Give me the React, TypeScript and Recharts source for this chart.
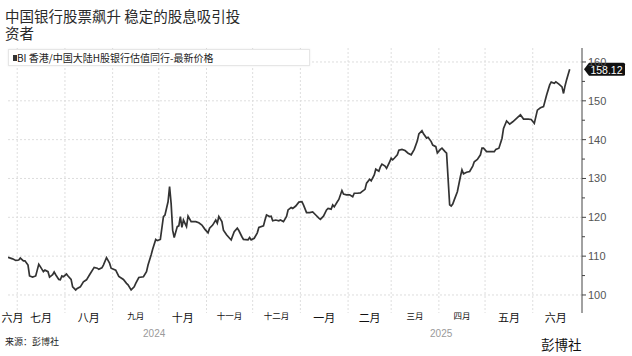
import React from "react";
import { LineChart, Line, XAxis, YAxis, CartesianGrid, ReferenceDot } from "recharts";

// days since 2024-07-01
const dayOffsets = [
  -6, -3, -1, 1, 2, 4, 5, 7, 8, 10,
  12, 13, 14, 15, 17, 18, 20, 21, 23, 24,
  25, 27, 28, 29, 30, 32, 33, 35, 36, 38,
  39, 41, 43, 45, 47, 50, 52, 53, 55, 56,
  58, 60, 61, 64, 66, 69, 71, 72, 74, 76,
  77, 79, 82, 84, 85, 87, 88, 90, 91, 93,
  95, 96, 98, 99, 100, 101, 102, 104, 105, 106,
  107, 108, 110, 111, 113, 116, 118, 120, 122, 124,
  125, 127, 129, 130, 131, 133, 134, 136, 138, 139,
  141, 143, 144, 146, 147, 150, 151, 152, 154, 156,
  157, 160, 161, 162, 164, 165, 166, 168, 170, 171,
  173, 175, 176, 178, 179, 181, 183, 185, 186, 188,
  190, 192, 194, 196, 197, 199, 201, 202, 204, 205,
  206, 208, 209, 211, 212, 214, 216, 218, 219, 221,
  223, 224, 226, 227, 229, 230, 232, 233, 235, 236,
  237, 239, 240, 242, 243, 244, 245, 247, 248, 250,
  252, 254, 256, 258, 260, 261, 263, 264, 266, 267,
  269, 270, 272, 273, 275, 276, 278, 279, 281, 282,
  283, 284, 286, 288, 289, 290, 292, 294, 296, 297,
  299, 301, 302, 303, 305, 307, 310, 311, 313, 315,
  316, 318, 320, 322, 325, 327, 329, 332, 334, 336,
  338, 340, 342, 344, 346, 347, 349, 350, 352, 354,
  355, 356, 357, 359,
];

const prices = [
  109.7, 109.3, 108.9, 109.0, 109.5, 108.8, 108.8, 107.7, 104.9, 104.6,
  104.9, 106.4, 107.9, 107.3, 106.0, 106.4, 106.0, 104.6, 105.2, 105.9,
  105.2, 104.0, 103.9, 104.9, 104.7, 105.4, 104.9, 104.0, 102.1, 101.3,
  101.7, 102.1, 103.4, 103.9, 105.2, 107.1, 106.9, 106.6, 107.0, 107.7,
  109.6, 108.2, 106.9, 106.4, 104.8, 104.0, 103.0, 102.6, 101.3, 102.1,
  103.0, 104.5, 104.7, 106.0, 107.7, 110.3, 111.8, 114.3, 114.0, 114.3,
  120.2, 120.6, 124.0, 127.9, 123.6, 116.7, 114.8, 117.6, 117.8, 120.2,
  117.4, 119.3, 117.6, 120.3, 118.9, 118.9, 118.6, 118.0, 116.9, 116.0,
  117.2, 118.0, 119.3, 118.5, 120.2, 118.9, 116.7, 115.5, 114.6, 114.2,
  116.3, 117.2, 116.6, 115.0, 114.3, 114.2, 114.8, 114.2, 114.6, 116.0,
  117.4, 117.8, 119.3, 120.6, 120.2, 120.3, 119.1, 119.3, 119.1, 119.3,
  118.9, 120.2, 121.9, 122.5, 122.3, 122.9, 123.9, 124.0, 123.2, 121.2,
  121.2, 121.4, 120.6, 119.8, 119.5, 120.3, 121.9, 122.3, 122.1, 123.2,
  122.7, 124.0, 124.6, 126.9, 126.0, 125.8, 125.8, 125.3, 126.2, 126.2,
  126.3, 126.6, 127.2, 128.8, 129.8, 129.4, 130.9, 132.4, 131.9, 133.0,
  133.7, 133.2, 132.6, 134.3, 135.2, 134.8, 135.2, 136.1, 137.3, 137.5,
  137.2, 136.5, 136.1, 137.5, 139.7, 141.5, 142.3, 141.5, 140.4, 140.6,
  139.5, 138.6, 138.2, 136.6, 137.5, 137.8, 136.9, 136.5, 123.2, 122.9,
  123.4, 124.5, 126.6, 130.5, 132.2, 131.2, 131.6, 131.8, 133.2, 134.3,
  134.9, 136.1, 137.8, 137.8, 136.9, 136.9, 136.9, 137.5, 137.8, 140.3,
  142.9, 144.8, 144.0, 144.6, 145.7, 146.4, 145.3, 145.3, 145.2, 144.2,
  147.6, 148.2, 148.5, 151.5, 154.1, 154.8, 154.5, 154.9, 154.3, 153.6,
  151.9, 153.9, 155.4, 158.12,
];

// month boundaries (days since 2024-07-01), including partial first/last June
const monthBounds = [-6, 0, 31, 62, 92, 123, 153, 184, 215, 243, 274, 304, 335, 365];
const monthStarts = [0, 31, 62, 92, 123, 153, 184, 215, 243, 274, 304, 335];
const monthLabels = ["六月", "七月", "八月", "九月", "十月", "十一月", "十二月", "一月", "二月", "三月", "四月", "五月", "六月"];
const yearLabels = ["2024", "2025"];
const yearStartDay = 184;
const yGridValues = [100, 110, 120, 130, 140, 150, 160];
const yTickValues = [100, 105, 110, 115, 120, 125, 130, 135, 140, 145, 150, 155, 160];

const X_MIN = -6;
const X_MAX = 367;
const Y_MIN = 95.36;
const Y_MAX = 163.6;

const data = dayOffsets.map((d, i) => ({ day: d, price: prices[i] }));
const monthLabelDays = monthLabels.map((_, i) => (monthBounds[i] + monthBounds[i + 1]) / 2);
const yearLabelDays = [(X_MIN + yearStartDay) / 2, (yearStartDay + X_MAX) / 2];
const lastPrice = prices[prices.length - 1];

const smallMonths = new Set(["九月", "十一月", "十二月", "三月", "四月"]);
const CJK = "'Noto Sans CJK SC', 'Noto Sans', sans-serif";
const NUM = "'Liberation Sans', Arial, sans-serif";

const MonthTick = (props: any) => {
  const { x, y, index } = props;
  const label = monthLabels[index];
  const small = smallMonths.has(label);
  return (
    <text
      x={x}
      y={y + (small ? 2 : 4)}
      textAnchor="middle"
      dominantBaseline="central"
      fontSize={small ? 8.5 : 11}
      fill="#111"
      fontFamily={CJK}
    >
      {label}
    </text>
  );
};

const YearTick = (props: any) => {
  const { x, y, index } = props;
  return (
    <text x={x} y={y + 4} textAnchor="middle" dominantBaseline="central" fontSize={10} fill="#9a9a9a" fontFamily={NUM}>
      {yearLabels[index]}
    </text>
  );
};

const ValueTick = (props: any) => {
  const { x, y, payload } = props;
  const v = payload.value;
  const major = v % 10 === 0;
  return (
    <g>
      <line x1={x} x2={x + (major ? 4 : 3)} y1={y} y2={y} stroke="#444" strokeWidth={1} />
      {major && (
        <text x={x + 6} y={y} dominantBaseline="central" fontSize={11} fill="#555" fontFamily={NUM}>
          {v}
        </text>
      )}
    </g>
  );
};

const PriceTag = (props: any) => {
  const { cx, cy } = props;
  if (cx == null || cy == null) return null;
  const l = cx + 2;
  const b = cx + 7;
  const r = cx + 43;
  const h = 6.5;
  return (
    <g>
      <path
        d={`M${l},${cy} L${b},${cy - h} L${r - 1.5},${cy - h} Q${r},${cy - h} ${r},${cy - h + 1.5} L${r},${cy + h - 1.5} Q${r},${cy + h} ${r - 1.5},${cy + h} L${b},${cy + h} Z`}
        fill="#111"
      />
      <text x={(b + r) / 2 - 0.5} y={cy + 0.5} textAnchor="middle" dominantBaseline="central" fontSize={10.5} fill="#fff" fontFamily={NUM}>
        {lastPrice.toFixed(2)}
      </text>
    </g>
  );
};

export default function App() {
  return (
    <div
      style={{
        position: "absolute",
        left: 0,
        top: 0,
        width: 632,
        height: 356,
        background: "#fff",
        overflow: "hidden",
        fontFamily: CJK,
      }}
    >
      <LineChart width={632} height={356} data={data} margin={{ top: 48, right: 0, bottom: 7, left: 8 }}>
        <CartesianGrid
          xAxisId="m"
          verticalValues={monthStarts}
          horizontalValues={yGridValues}
          stroke="#dedede"
          strokeDasharray="2 2"
        />
        <XAxis
          xAxisId="m"
          dataKey="day"
          type="number"
          domain={[X_MIN, X_MAX]}
          allowDataOverflow
          ticks={monthLabelDays}
          interval={0}
          tick={<MonthTick />}
          tickLine={false}
          axisLine={false}
          tickSize={0}
          tickMargin={0}
          height={16}
        />
        <XAxis
          xAxisId="y"
          dataKey="day"
          type="number"
          domain={[X_MIN, X_MAX]}
          allowDataOverflow
          ticks={yearLabelDays}
          interval={0}
          tick={<YearTick />}
          tickLine={false}
          axisLine={false}
          tickSize={0}
          tickMargin={0}
          height={20}
        />
        <YAxis
          orientation="right"
          type="number"
          domain={[Y_MIN, Y_MAX]}
          allowDataOverflow
          ticks={yTickValues}
          interval={0}
          tick={<ValueTick />}
          tickLine={false}
          axisLine={{ stroke: "#444" }}
          tickSize={0}
          tickMargin={0}
          width={50}
        />
        <Line
          xAxisId="m"
          type="linear"
          dataKey="price"
          stroke="#333"
          strokeWidth={1.7}
          dot={false}
          isAnimationActive={false}
        />
        <ReferenceDot xAxisId="m" x={X_MAX} y={lastPrice} r={0} ifOverflow="visible" shape={(p: any) => <PriceTag {...p} />} />
      </LineChart>

      <div style={{ position: "absolute", left: 5, top: 7, fontSize: 14.5, lineHeight: "17px", color: "#2a2a2a", whiteSpace: "nowrap" }}>
        <div>中国银行股票飙升 稳定的股息吸引投</div>
        <div>资者</div>
      </div>

      <div
        style={{
          position: "absolute",
          left: 8,
          top: 49,
          width: 302,
          height: 17,
          background: "#fff",
          border: "1px solid #e6e6e6",
          boxShadow: "0 0 2px rgba(0,0,0,0.08)",
          boxSizing: "border-box",
          display: "flex",
          alignItems: "center",
          fontSize: 10,
          color: "#222",
          whiteSpace: "nowrap",
        }}
      >
        <span style={{ display: "inline-block", width: 4, height: 6, background: "#333", marginLeft: 4, marginRight: 0 }} />
        <span>BI 香港/中国大陆H股银行估值同行-最新价格</span>
      </div>

      <div style={{ position: "absolute", left: 5, top: 336, fontSize: 9, lineHeight: "11px", color: "#222" }}>来源：彭博社</div>
      <div style={{ position: "absolute", left: 541, top: 336, fontSize: 13.5, lineHeight: "16px", color: "#111" }}>彭博社</div>
    </div>
  );
}
